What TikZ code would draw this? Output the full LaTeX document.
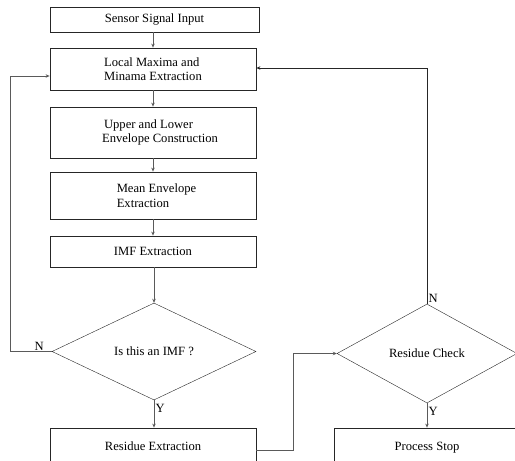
\documentclass[tikz,border=0pt]{standalone}
\usepackage{fontspec}
\setmainfont{Liberation Serif}
\usepackage{tikz}
\usetikzlibrary{positioning,shapes.geometric,arrows.meta}
\tikzstyle{flowChart} = [x = 1pt, y = -1pt, font=\fontsize{12.6}{14.5}\selectfont]
\definecolor{lineColor}{RGB}{90,90,90}
\tikzstyle{boxStyle} = [draw=black!85, thick, rectangle, minimum width=206pt, inner sep=2pt]
\tikzstyle{decisionStyle} = [draw=black!85, diamond, inner sep=0pt]
\tikzstyle{linkStyle} = [draw=lineColor, line width=1pt]
\tikzstyle{arrowStyle} = [linkStyle, -{Stealth[length=4pt,width=3.5pt]}]
\tikzstyle{branchText} = [font=\fontsize{12.6}{14.5}\selectfont, inner sep=1pt]

\begin{document}
\begin{tikzpicture}[flowChart]
  \useasboundingbox (0,0) rectangle (515,461);
  \clip (0,0) rectangle (515,461);

  \node [boxStyle, minimum width=209pt, minimum height=25pt] (sensorInput) at (154.5,19.5) {Sensor Signal Input};
  \node [boxStyle, minimum height=42pt, align=left] (localExtrema) at (153,69) {Local Maxima and\\Minama Extraction};
  \node [boxStyle, minimum height=51pt, align=left] (envelopeBuild) at (153,132.5) {\hspace*{16pt}Upper and Lower\\\hspace*{14pt}Envelope Construction};
  \node [boxStyle, minimum height=47pt, align=left] (meanEnvelope) at (153,195.5) {\hspace*{7pt}Mean Envelope\\\hspace*{7pt}Extraction};
  \node [boxStyle, minimum height=31pt] (imfExtract) at (153,251.5) {IMF Extraction};
  \node [decisionStyle, minimum width=204pt, minimum height=97pt] (imfCheck) at (154,351.5) {Is this an IMF ?};
  \node [boxStyle, minimum height=44pt, text depth=8pt] (residueExtract) at (153,450) {Residue Extraction};
  \node [decisionStyle, minimum width=180pt, minimum height=99pt] (residueCheck) at (427,353.5) {Residue Check};
  \node [boxStyle, minimum width=186pt, minimum height=44pt, text depth=8pt] (processStop) at (427,450) {Process Stop};

  % main chain
  \draw [arrowStyle] (sensorInput.south -| 153,0) -- (localExtrema);
  \draw [arrowStyle] (localExtrema) -- (envelopeBuild);
  \draw [arrowStyle] (envelopeBuild) -- (meanEnvelope);
  \draw [arrowStyle] (meanEnvelope) -- (imfExtract);
  \draw [arrowStyle] (imfExtract.south -| imfCheck.north) -- (imfCheck.north);
  \draw [arrowStyle] (imfCheck.south) -- node [branchText, right, pos=0.3] {Y} (imfCheck.south |- residueExtract.north);

  % loop back when not an IMF
  \coordinate (loopTop) at (10,76);
  \draw [arrowStyle] (imfCheck.west) -- node [branchText, above, pos=0.3] {N} (imfCheck.west -| loopTop) -- (loopTop) -- (loopTop -| localExtrema.west);

  % residue path
  \coordinate (jogPoint) at (293,450);
  \draw [arrowStyle] (residueExtract.east) -- (jogPoint) |- (residueCheck.west);
  \draw [arrowStyle] (residueCheck.south) -- node [branchText, right, pos=0.35] {Y} (processStop.north);
  \draw [arrowStyle, draw=black!85] (residueCheck.north) -- node [branchText, above right, at start] {N} (residueCheck.north |- 0,68) -- (localExtrema.east |- 0,68);
\end{tikzpicture}
\end{document}
